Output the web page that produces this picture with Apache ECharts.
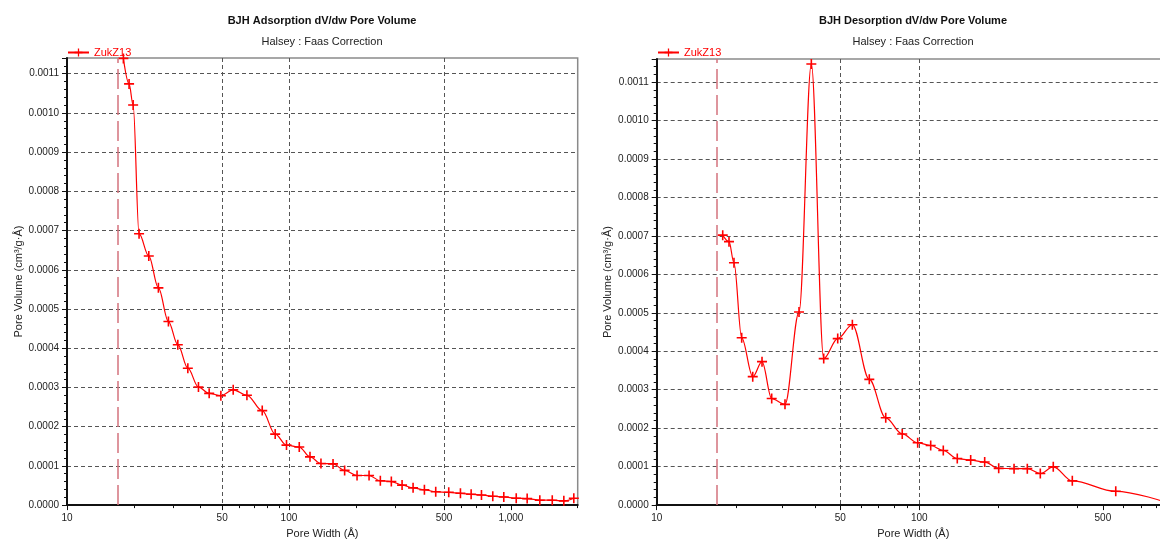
<!DOCTYPE html>
<html>
<head>
<meta charset="utf-8">
<script src="https://cdn.jsdelivr.net/npm/echarts@6/dist/echarts.min.js"></script>
<style>
  html, body { margin: 0; padding: 0; background: #fff; overflow: hidden; }
  /* the canvas is a little wider than the window: the desorption plot runs past the right edge */
  #chart { width: 1180px; height: 544px; }
</style>
</head>
<body>
<div id="chart"></div>
<script>
// BJH adsorption branch: pore width (Å) and dV/dw pore volume (cm³/g·Å)
const adsWidth = [17.95, 19.04, 19.86, 21.12, 23.36, 25.81, 28.64, 31.57, 35.03, 39.11,
  43.71, 49.35, 56.09, 64.66, 75.8, 86.7, 97.5, 111.3, 124.4, 139.4,
  158.0, 178.2, 202.7, 229.6, 258.1, 289.3, 323.4, 362.5, 407.7, 458.5,
  524.8, 592.5, 662.1, 737, 828.7, 929, 1057, 1184, 1350, 1536, 1732, 1921];
const adsVolume = [0.001139, 0.001074, 0.001020, 0.000692, 0.000635, 0.000554, 0.000468, 0.000409, 0.000349, 0.000301,
  0.000285, 0.000279, 0.000294, 0.000280, 0.000241, 0.000181, 0.000153, 0.000148, 0.000123, 0.000106,
  0.000105, 0.0000885, 0.0000755, 0.0000755, 0.000062, 0.000060, 0.000051, 0.000044, 0.000039, 0.000034,
  0.0000326, 0.0000301, 0.0000276, 0.0000258, 0.0000226, 0.0000208, 0.0000176, 0.0000166, 0.0000125, 0.0000125,
  0.0000108, 0.0000176];

// BJH desorption branch
const desWidth = [17.84, 18.85, 19.69, 21.07, 23.21, 25.18, 27.41, 30.8, 34.83, 38.8,
  43.25, 48.9, 55.6, 64.5, 74.5, 86.1, 98.6, 110.5, 123.4, 139.5,
  156.9, 177.4, 200.6, 229.5, 257.8, 288.9, 323.7, 382.5, 559.8, 880];
const desVolume = [0.000702, 0.000685, 0.000630, 0.000435, 0.000334, 0.000373, 0.000277, 0.000262, 0.000502, 0.001147,
  0.000381, 0.000433, 0.000469, 0.000327, 0.000227, 0.000185, 0.000162, 0.000155, 0.000142, 0.000121,
  0.000117, 0.000112, 0.0000955, 0.0000948, 0.0000948, 0.000082, 0.0000995, 0.000063, 0.0000359, 0.000006];

// Lower pore-width limit of the analysis (Å)
const poreCutoff = 17;

// Axis ticks
const xMajorTicks = [10, 50, 100, 500, 1000];
const xMinorTicks = [20, 30, 40, 60, 70, 80, 90, 200, 300, 400, 600, 700, 800, 900, 2000];

const sampleName = 'ZukZ13';
const FONT = '"Liberation Sans", Arial, sans-serif';
const RED = '#ff0000';
const PLUS = 'path://M4.2,0H5.8V4.2H10V5.8H5.8V10H4.2V5.8H0V4.2H4.2Z';

const pairs = (xs, ys) => xs.map((x, i) => [x, ys[i]]);
const fmtX = v => v >= 1000 ? String(v).replace(/\B(?=(\d{3})+(?!\d))/g, ',') : String(v);

function majorX(grid, xmax) {
  return {
    type: 'log', logBase: 10, gridIndex: grid, min: 10, max: xmax, position: 'bottom',
    name: 'Pore Width (Å)', nameLocation: 'middle', nameGap: 19,
    nameTextStyle: { fontFamily: FONT, fontSize: 11, color: '#222' },
    axisLine: { show: true, onZero: false, lineStyle: { color: '#111', width: 2 } },
    axisTick: { show: true, length: 5, customValues: xMajorTicks, lineStyle: { color: '#111' } },
    axisLabel: { customValues: xMajorTicks, formatter: fmtX, margin: 8,
      fontFamily: FONT, fontSize: 10, color: '#222' },
    splitLine: { show: true, showMinLine: false, showMaxLine: false,
      lineStyle: { color: '#555', type: [4, 3], width: 1 } },
    minorTick: { show: false }
  };
}
function minorX(grid, xmax) {
  return {
    type: 'log', logBase: 10, gridIndex: grid, min: 10, max: xmax, position: 'bottom',
    axisLine: { show: false },
    axisTick: { show: true, length: 3, customValues: xMinorTicks, lineStyle: { color: '#111' } },
    axisLabel: { show: false },
    splitLine: { show: false }
  };
}
function yAxis(grid, ymax) {
  return {
    type: 'value', gridIndex: grid, min: 0, max: ymax, interval: 0.0001,
    name: 'Pore Volume (cm³/g·Å)', nameLocation: 'middle', nameGap: 43,
    nameTextStyle: { fontFamily: FONT, fontSize: 11, color: '#222' },
    axisLine: { show: true, lineStyle: { color: '#111', width: 2 } },
    axisTick: { show: true, length: 5, lineStyle: { color: '#111' } },
    minorTick: { show: true, splitNumber: 5, length: 3, lineStyle: { color: '#111' } },
    axisLabel: { formatter: v => v.toFixed(4), showMaxLabel: false, margin: 8,
      fontFamily: FONT, fontSize: 10, color: '#222' },
    splitLine: { show: true, showMinLine: false, showMaxLine: false,
      lineStyle: { color: '#555', type: [4, 3], width: 1 } }
  };
}
function series(xi, yi, data) {
  return {
    name: sampleName, type: 'line', xAxisIndex: xi, yAxisIndex: yi,
    data: data, smooth: 0.35, smoothMonotone: 'x',
    symbol: PLUS, symbolSize: 10, showAllSymbol: true,
    lineStyle: { color: RED, width: 1.2 },
    itemStyle: { color: RED },
    markLine: {
      silent: true, symbol: 'none', label: { show: false },
      lineStyle: { color: '#d4737d', type: [20, 6], width: 1.5 },
      data: [{ xAxis: poreCutoff }]
    },
    z: 3
  };
}
function titles(cx, main) {
  return [
    { text: main, left: cx, top: 15, textAlign: 'center', padding: 0,
      textStyle: { fontFamily: FONT, fontSize: 11, fontWeight: 'bold', color: '#111' } },
    { text: 'Halsey : Faas Correction', left: cx, top: 36, textAlign: 'center', padding: 0,
      textStyle: { fontFamily: FONT, fontSize: 11, fontWeight: 'normal', color: '#222' } }
  ];
}
function legend(left) {
  return {
    left: left, top: 47, padding: 0, itemWidth: 21, itemHeight: 10, itemGap: 5,
    data: [{ name: sampleName }],
    textStyle: { fontFamily: FONT, fontSize: 11, color: RED, padding: [0, 0, 0, 0] }
  };
}

const chart = echarts.init(document.getElementById('chart'), null, { renderer: 'canvas' });
chart.setOption({
  backgroundColor: '#fff',
  animation: false,
  title: [].concat(titles(322, 'BJH Adsorption dV/dw Pore Volume'),
                   titles(913, 'BJH Desorption dV/dw Pore Volume')),
  legend: [legend(67), legend(657)],
  grid: [
    { left: 67, top: 58, width: 510.7, bottom: 31.7, show: true,
      borderColor: '#8a8a8a', borderWidth: 1.5, backgroundColor: '#fff' },
    { left: 656.7, top: 59, width: 513.2, bottom: 32.7, show: true,
      borderColor: '#8a8a8a', borderWidth: 1.5, backgroundColor: '#fff' }
  ],
  xAxis: [majorX(0, 2000), minorX(0, 2000), majorX(1, 900), minorX(1, 900)],
  yAxis: [yAxis(0, 0.00114), yAxis(1, 0.00116)],
  series: [
    series(0, 0, pairs(adsWidth, adsVolume)),
    series(2, 1, pairs(desWidth, desVolume))
  ]
});
</script>
</body>
</html>
